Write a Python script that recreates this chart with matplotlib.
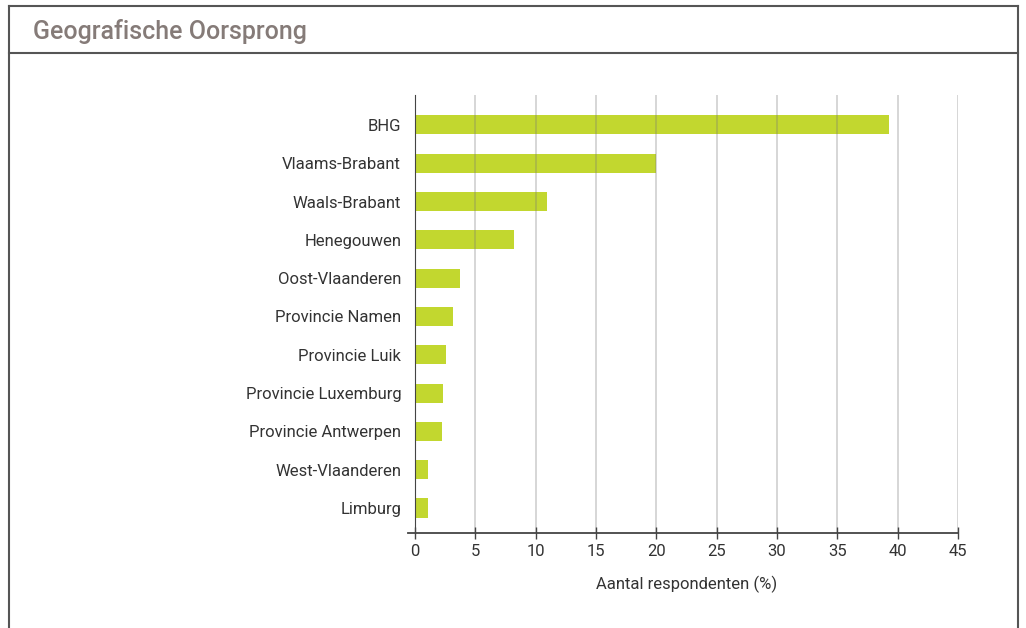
import matplotlib.pyplot as plt
from matplotlib.lines import Line2D
from matplotlib import font_manager

regions = ["BHG", "Vlaams-Brabant", "Waals-Brabant", "Henegouwen", "Oost-Vlaanderen",
           "Provincie Namen", "Provincie Luik", "Provincie Luxemburg",
           "Provincie Antwerpen", "West-Vlaanderen", "Limburg"]
share = [39.3, 20.0, 10.9, 8.2, 3.7, 3.15, 2.6, 2.3, 2.2, 1.1, 1.1]
xticks = [0, 5, 10, 15, 20, 25, 30, 35, 40, 45]

names = {f.name for f in font_manager.fontManager.ttflist}
family = "Liberation Sans Narrow" if "Liberation Sans Narrow" in names else "Roboto"
plt.rcParams["font.family"] = [family, "DejaVu Sans"]

fig = plt.figure(figsize=(10.26, 6.28), dpi=100)
ax = fig.add_axes([0.4045, 0.1513, 0.5292, 0.6974])

y = list(range(len(regions)))
ax.barh(y, share, height=0.5, color="#c2d72f", zorder=1)

ax.set_xlim(0, 45)
ax.set_ylim(len(regions) - 0.35, -0.78)
ax.set_xticks(xticks)
ax.set_xticklabels([str(t) for t in xticks], fontsize=12, color="#333333")
ax.set_yticks(y)
ax.set_yticklabels(regions, fontsize=12, color="#333333")
ax.tick_params(axis="y", length=0, pad=10)
ax.tick_params(axis="x", direction="inout", length=8, width=1, color="#444444", pad=4)

# light gridlines drawn over the bars
ax.grid(axis="x", color="#777777", alpha=0.32, linewidth=1.3, zorder=3)
ax.set_axisbelow(False)
for s in ["top", "right"]:
    ax.spines[s].set_visible(False)
ax.spines["left"].set_color("#444444")
ax.spines["bottom"].set_visible(False)
ax.spines["left"].set_zorder(4)

# bottom axis line runs a little past zero on the left
ax.plot([-0.6, 45], [0, 0], transform=ax.get_xaxis_transform(), color="#444444",
        linewidth=1.3, clip_on=False, zorder=4)

ax.set_xlabel("Aantal respondenten (%)", fontsize=12, color="#333333", labelpad=12)

# panel frame with header
frame = "#555555"
x0, x1 = 9 / 1026, 1018 / 1026
ytop, yhead = 1 - 6 / 628, 1 - 53 / 628
fig.add_artist(Line2D([x0, x1], [ytop, ytop], color=frame, lw=1.5))
fig.add_artist(Line2D([x0, x1], [yhead, yhead], color=frame, lw=1.5))
fig.add_artist(Line2D([x0, x0], [0, ytop], color=frame, lw=1.5))
fig.add_artist(Line2D([x1, x1], [0, ytop], color=frame, lw=1.5))
fig.text(33 / 1026, 1 - 31 / 628, "Geografische Oorsprong", fontsize=18,
         color="#857b78", va="center", ha="left", fontweight="medium")

fig.savefig("out.png", dpi=100)
